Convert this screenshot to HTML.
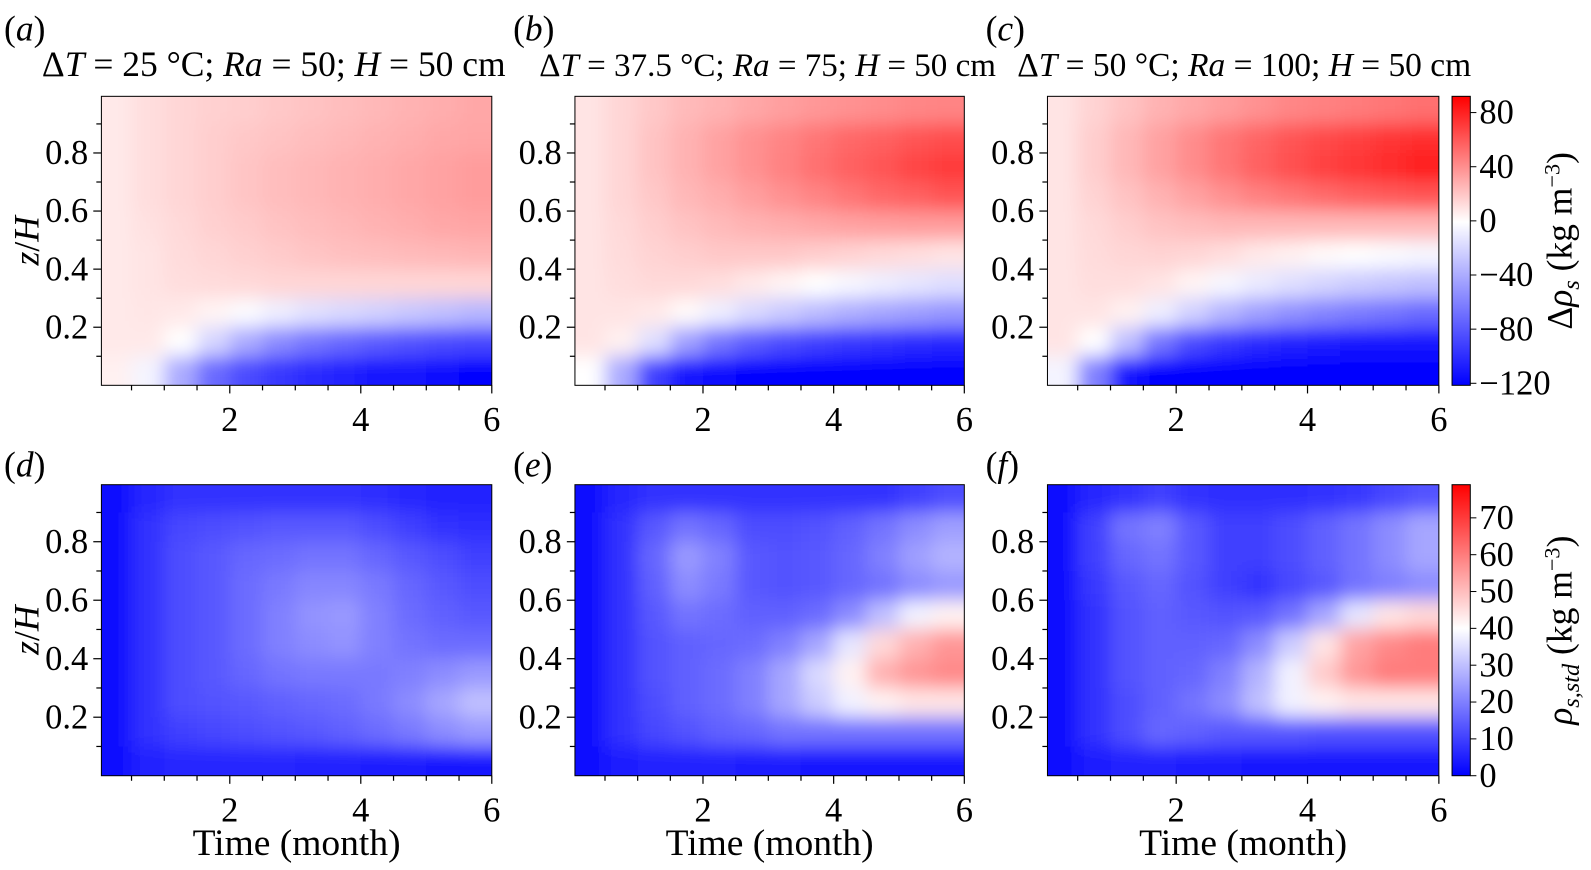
<!DOCTYPE html>
<html><head><meta charset="utf-8"><style>
body{margin:0;background:#fff;}
svg{display:block;font-family:"Liberation Serif",serif;}
</style></head><body>
<svg id="fig" width="1591" height="870" viewBox="0 0 1591 870">
<defs>
<filter id="blur" x="-10%" y="-10%" width="120%" height="120%"><feGaussianBlur stdDeviation="9"/></filter>
<linearGradient id="cbTop" x1="0" y1="1" x2="0" y2="0">
<stop offset="0" stop-color="#0000ff"/><stop offset="0.565" stop-color="#ffffff"/><stop offset="1" stop-color="#ff0000"/>
</linearGradient>
<linearGradient id="cbBot" x1="0" y1="1" x2="0" y2="0">
<stop offset="0" stop-color="#0000ff"/><stop offset="0.506" stop-color="#ffffff"/><stop offset="1" stop-color="#ff0000"/>
</linearGradient>
</defs>
<g id="root" transform="scale(1.014)"></g>
</svg>
<script>
// ---- data ----
const times=[0.25,0.75,1.25,1.75,2.25,2.75,3.25,3.75,4.25,4.75,5.25,5.75];
const heights=[0.95,0.85,0.75,0.65,0.55,0.45,0.35,0.25,0.15,0.05];
const xTicks=[2,4,6];
const yTicks=[0.2,0.4,0.6,0.8];
const topCbTicks=[80,40,0,-40,-80,-120];
const botCbTicks=[70,60,50,40,30,20,10,0];
const panelA=[
[8,12,15,17,18,20,22,24,26,28,30,32],
[8,12,15,18,20,22,24,26,28,30,32,33],
[8,12,15,18,21,24,26,28,30,32,34,36],
[8,12,15,18,21,24,26,28,30,32,34,36],
[8,11,14,17,19,22,24,26,28,30,32,33],
[8,10,13,15,17,19,21,23,24,25,26,27],
[8,10,12,13,14,15,15,15,15,15,15,15],
[8,9,8,4,-2,-8,-14,-18,-22,-26,-30,-34],
[8,8,0,-20,-40,-55,-65,-72,-78,-82,-85,-88],
[5,-5,-40,-70,-85,-95,-100,-105,-110,-112,-115,-118]];
const panelB=[
[10,15,20,25,28,32,35,38,40,42,44,45],
[10,15,22,28,34,40,45,50,55,58,62,65],
[10,15,22,28,34,40,46,52,58,62,68,72],
[10,15,20,26,30,35,40,45,50,55,58,62],
[10,14,18,22,25,28,30,32,34,35,36,36],
[10,13,16,18,20,20,20,18,16,14,12,10],
[10,12,14,14,12,8,4,0,-4,-8,-12,-15],
[10,10,8,2,-8,-18,-25,-32,-38,-42,-46,-50],
[10,5,-15,-45,-65,-78,-85,-90,-95,-98,-100,-102],
[0,-40,-90,-110,-115,-118,-120,-120,-120,-120,-120,-120]];
const panelC=[
[10,16,22,28,32,36,40,44,46,48,50,52],
[10,18,26,34,42,50,56,62,66,70,74,76],
[10,18,26,34,42,50,58,64,70,74,78,82],
[10,16,22,28,34,40,46,50,54,58,60,62],
[10,14,18,22,24,26,26,26,26,26,26,26],
[10,13,15,16,15,12,8,5,2,0,-2,-4],
[10,12,12,10,4,-4,-10,-15,-20,-24,-27,-30],
[10,10,5,-8,-22,-35,-45,-52,-58,-62,-66,-70],
[10,0,-30,-65,-85,-95,-100,-104,-108,-110,-112,-112],
[-5,-60,-110,-120,-120,-120,-120,-120,-120,-120,-120,-120]];
const panelD=[
[2,6,8,8,8,8,8,8,7,6,5,5],
[2,8,11,12,13,14,14,14,12,10,8,7],
[2,8,12,14,16,17,18,18,16,14,12,10],
[2,8,12,14,17,19,21,21,19,16,14,12],
[2,8,12,14,17,20,23,24,20,17,15,14],
[2,8,12,14,17,20,22,23,20,18,17,17],
[2,8,12,14,16,18,19,19,19,20,22,24],
[2,8,12,13,14,15,16,17,19,22,26,30],
[2,8,10,11,12,13,14,15,17,19,22,24],
[2,5,6,6,6,6,5,5,4,4,3,3]];
const panelE=[
[2,6,8,8,8,8,8,8,8,8,10,12],
[2,8,14,18,16,12,12,13,15,18,22,25],
[2,8,16,24,20,14,13,14,16,20,25,28],
[2,8,15,22,19,14,13,14,16,18,22,24],
[2,8,14,18,17,15,15,17,22,30,38,42],
[2,8,13,15,16,17,20,26,36,46,52,56],
[2,8,13,15,17,20,26,34,42,52,56,58],
[2,8,12,15,17,20,26,32,38,42,44,44],
[2,8,11,13,15,16,18,18,18,18,18,18],
[2,4,5,5,5,4,4,3,3,3,3,3]];
const panelF=[
[2,6,8,10,8,7,7,7,8,9,11,13],
[2,10,18,20,14,10,10,12,15,18,22,26],
[2,10,16,18,14,10,10,12,15,18,22,26],
[2,9,14,16,13,10,8,11,14,18,20,22],
[2,8,13,15,14,13,14,18,26,36,44,46],
[2,8,13,15,15,16,22,32,44,54,58,60],
[2,8,13,15,16,20,28,38,48,56,60,60],
[2,8,12,15,18,22,30,38,42,44,44,44],
[2,8,12,16,15,14,14,14,13,13,13,13],
[2,4,5,5,4,4,3,3,3,3,3,3]];

const NS="http://www.w3.org/2000/svg";
const svg=document.getElementById('fig');
const root=document.getElementById('root');
function mk(tag,attrs,parent){const e=document.createElementNS(NS,tag);for(const k in attrs)e.setAttribute(k,attrs[k]);(parent||root).appendChild(e);return e;}
function mix(t,c){t=Math.max(0,Math.min(1,t));return `rgb(${Math.round(255+(c[0]-255)*t)},${Math.round(255+(c[1]-255)*t)},${Math.round(255+(c[2]-255)*t)})`;}
function cmapTop(v){return v<0?mix(-v/121,[0,0,255]):mix(v/93,[255,0,0]);}
function cmapBot(v){return v<40?mix((40-v)/40,[0,0,255]):mix((v-40)/39,[255,0,0]);}

const FS=34;
const panels=[
{id:'a',data:panelA,x0:100,x1:485,y0:95,y1:380,lx:4,ly:40,cmap:cmapTop,title:['25','50'],tx:270,tf:35,ylab:true,xlab:false},
{id:'b',data:panelB,x0:567,x1:951,y0:95,y1:380,lx:506,ly:40,cmap:cmapTop,title:['37.5','75'],tx:757,tf:32.6,ylab:false,xlab:false},
{id:'c',data:panelC,x0:1033,x1:1419,y0:95,y1:380,lx:972,ly:40,cmap:cmapTop,title:['50','100'],tx:1227,tf:33,ylab:false,xlab:false},
{id:'d',data:panelD,x0:100,x1:485,y0:478,y1:765,lx:4,ly:470,cmap:cmapBot,ylab:true,xlab:true},
{id:'e',data:panelE,x0:567,x1:951,y0:478,y1:765,lx:506,ly:470,cmap:cmapBot,ylab:false,xlab:true},
{id:'f',data:panelF,x0:1033,x1:1419,y0:478,y1:765,lx:972,ly:470,cmap:cmapBot,ylab:false,xlab:true}];

panels.forEach(p=>{
  const xs=t=>p.x0+(t-0.04)/(6.0-0.04)*(p.x1-p.x0);
  const ys=z=>p.y1-z/0.995*(p.y1-p.y0);
  const g=mk('g',{});
  
  
  const cp=mk('clipPath',{id:'clip'+p.id},g);
  mk('rect',{x:p.x0,y:p.y0,width:p.x1-p.x0,height:p.y1-p.y0},cp);
  const outer=mk('g',{'clip-path':'url(#clip'+p.id+')'},g);
  const hm=mk('g',{filter:'url(#blur)'},outer);
  const dx=xs(times[1])-xs(times[0]), dy=ys(heights[1])-ys(heights[0]);
  p.data.forEach((row,i)=>row.forEach((v,j)=>{
    let cx=xs(times[j]), cy=ys(heights[i]);
    let l=cx-dx/2, r=cx+dx/2, t=cy-dy/2, b=cy+dy/2;
    if(j===0)l-=40; if(j===row.length-1)r+=40;
    if(i===0)t-=40; if(i===p.data.length-1)b+=40;
    const c=mk('rect',{x:l,y:t,width:r-l+0.5,height:b-t+0.5,fill:p.cmap(v)},hm);
    
    
  }));
  mk('rect',{x:p.x0,y:p.y0,width:p.x1-p.x0,height:p.y1-p.y0,fill:'none',stroke:'#000','stroke-width':1},g);
  for(let k=1;k<=12;k++){const t=k*0.5;const x=xs(t);const major=xTicks.includes(t);
    mk('line',{x1:x,x2:x,y1:p.y1,y2:p.y1+(major?8:5),stroke:'#000','stroke-width':1.2},g);}
  xTicks.forEach(t=>{const tx=mk('text',{x:xs(t),y:p.y1+45,'text-anchor':'middle','font-size':FS},g);tx.textContent=t;
    });
  yTicks.forEach(z=>{const y=ys(z);mk('line',{x1:p.x0,x2:p.x0-8,y1:y,y2:y,stroke:'#000','stroke-width':1.2},g);
    const tx=mk('text',{x:p.x0-13,y:y+11,'text-anchor':'end','font-size':FS},g);tx.textContent=z.toFixed(1);
    });
  for(let z=0.1;z<1;z+=0.2){const y=ys(z);mk('line',{x1:p.x0,x2:p.x0-5,y1:y,y2:y,stroke:'#000','stroke-width':1.2},g);}
  const lab=mk('text',{x:p.lx,y:p.ly,'font-size':35},g);
  lab.innerHTML='(<tspan font-style="italic">'+p.id+'</tspan>)';
  
  if(p.title){const tt=mk('text',{x:p.tx,y:p.y0-20,'text-anchor':'middle','font-size':p.tf},g);
    tt.innerHTML='Δ<tspan font-style="italic">T</tspan> = '+p.title[0]+' °C; <tspan font-style="italic">Ra</tspan> = '+p.title[1]+'; <tspan font-style="italic">H</tspan> = 50 cm';
    }
  if(p.ylab){const yl=mk('text',{x:0,y:0,'text-anchor':'middle','font-size':35,transform:`translate(38,${(p.y0+p.y1)/2}) rotate(-90)`},g);
    yl.innerHTML='<tspan font-style="italic">z</tspan>/<tspan font-style="italic">H</tspan>';
    }
  if(p.xlab){const xl=mk('text',{x:(p.x0+p.x1)/2,y:843,'text-anchor':'middle','font-size':37},g);
    xl.textContent='Time (month)';}
});

function colorbar(y0,y1,vmin,vmax,ticks,grad,labelHTML,name){
  const g=mk('g',{});
  
  
  mk('rect',{x:1432,y:y0,width:18,height:y1-y0,fill:'url(#'+grad+')',stroke:'#000','stroke-width':1},g);
  const ys=v=>y1-(v-vmin)/(vmax-vmin)*(y1-y0);
  ticks.forEach(v=>{const y=ys(v);mk('line',{x1:1450,x2:1456,y1:y,y2:y,stroke:'#000'},g);
    const t=mk('text',{x:1459,y:y+11,'font-size':FS},g);t.textContent=v<0?'−'+(-v):v;
    });
  const l=mk('text',{x:0,y:0,'text-anchor':'middle','font-size':35,transform:`translate(1550,${(y0+y1)/2}) rotate(-90)`},g);
  l.innerHTML=labelHTML;
}
colorbar(95,380,-121.5,92,topCbTicks,'cbTop','Δ<tspan font-style="italic">ρ</tspan><tspan font-style="italic" font-size="24" dy="7">s</tspan><tspan dy="-7"> (kg m</tspan><tspan font-size="22" dy="-12">−3</tspan><tspan dy="12">)</tspan>','colorbar-density-difference');
colorbar(478,765,0,79,botCbTicks,'cbBot','<tspan font-style="italic">ρ</tspan><tspan font-style="italic" font-size="24" dy="7">s,std</tspan><tspan dy="-7"> (kg m</tspan><tspan font-size="22" dy="-12">−3</tspan><tspan dy="12">)</tspan>','colorbar-density-std');
</script>
</body></html>
